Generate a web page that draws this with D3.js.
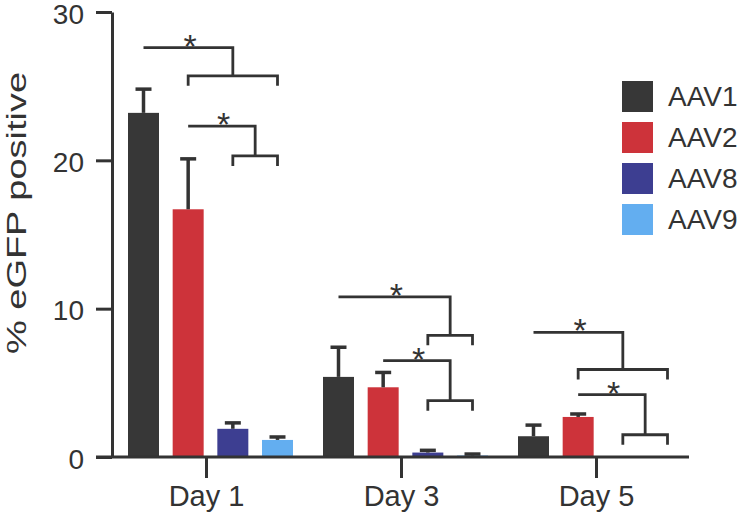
<!DOCTYPE html>
<html>
<head>
<meta charset="utf-8">
<script src="https://cdn.jsdelivr.net/npm/d3@7"></script>
<style>
    body { margin: 0; background: #fff; }
    text { font-family: "Liberation Sans", Arial, sans-serif; fill: #333; }
</style>
</head>
<body>
<div id="chart"></div>
<script>
// Categories and series
const days = ["Day 1", "Day 3", "Day 5"];
const serotypes = ["AAV1", "AAV2", "AAV8", "AAV9"];
const colors = ["#373737", "#cd333a", "#3d3e91", "#63aef0"];

// Mean % eGFP positive per day
const aav1Mean = [23.2, 5.4, 1.4];
const aav2Mean = [16.7, 4.7, 2.7];
const aav8Mean = [1.9, 0.3, 0];
const aav9Mean = [1.15, 0.1, 0];

// Upper error (added to the mean)
const aav1Err = [1.6, 2.0, 0.75];
const aav2Err = [3.4, 1.0, 0.2];
const aav8Err = [0.4, 0.15, 0];
const aav9Err = [0.2, 0.1, 0];

const yTicks = [0, 10, 20, 30];

// Significance brackets: one group vs a span of groups
const sigDay = ["Day 1", "Day 1", "Day 3", "Day 3", "Day 5", "Day 5"];
const sigFrom = ["AAV1", "AAV2", "AAV1", "AAV2", "AAV1", "AAV2"];
const sigToFirst = ["AAV2", "AAV8", "AAV8", "AAV8", "AAV2", "AAV8"];
const sigToLast = ["AAV9", "AAV9", "AAV9", "AAV9", "AAV9", "AAV9"];
const sigTop = [27.6, 22.3, 10.8, 6.5, 8.4, 4.2];
const sigBottom = [25.7, 20.3, 8.2, 3.8, 5.9, 1.5];

const means = [aav1Mean, aav2Mean, aav8Mean, aav9Mean];
const errs = [aav1Err, aav2Err, aav8Err, aav9Err];

const data = [];
days.forEach((day, i) => {
    serotypes.forEach((s, j) => {
        data.push({ day: day, sero: s, value: means[j][i], err: errs[j][i] });
    });
});

const width = 747, height = 522;
const ink = "#333";

const svg = d3.select("#chart")
    .append("svg")
    .attr("width", width)
    .attr("height", height);

const y = d3.scaleLinear()
    .domain([0, 30])
    .range([457, 12]);

const x = d3.scaleBand()
    .domain(days)
    .range([128, 683])
    .paddingInner(30 / 195)
    .paddingOuter(0);

const xs = d3.scaleBand()
    .domain(serotypes)
    .range([0, x.bandwidth()])
    .paddingInner(0.306);

const color = d3.scaleOrdinal().domain(serotypes).range(colors);

// Bars
svg.selectAll(".bar")
    .data(data)
    .enter()
    .append("rect")
    .attr("class", "bar")
    .attr("x", d => x(d.day) + xs(d.sero))
    .attr("y", d => y(d.value))
    .attr("width", xs.bandwidth())
    .attr("height", d => y(0) - y(d.value))
    .attr("fill", d => color(d.sero));

// Error bars (upper only)
const eb = svg.selectAll(".err")
    .data(data.filter(d => d.value + d.err > 0))
    .enter()
    .append("g")
    .attr("class", "err")
    .attr("stroke", ink)
    .attr("stroke-width", 3.5);

eb.append("line")
    .attr("x1", d => x(d.day) + xs(d.sero) + xs.bandwidth() / 2)
    .attr("x2", d => x(d.day) + xs(d.sero) + xs.bandwidth() / 2)
    .attr("y1", d => y(d.value))
    .attr("y2", d => y(d.value + d.err));

eb.append("line")
    .attr("x1", d => x(d.day) + xs(d.sero) + xs.bandwidth() / 2 - 8)
    .attr("x2", d => x(d.day) + xs(d.sero) + xs.bandwidth() / 2 + 8)
    .attr("y1", d => y(d.value + d.err))
    .attr("y2", d => y(d.value + d.err));

// Y axis
const yAxis = svg.append("g")
    .attr("class", "y-axis")
    .attr("transform", "translate(112,0)")
    .call(d3.axisLeft(y).tickValues(yTicks).tickSize(16).tickSizeOuter(0).tickPadding(12));

yAxis.select(".domain").attr("stroke", ink).attr("stroke-width", 3);
yAxis.selectAll(".tick line").attr("stroke", ink).attr("stroke-width", 3);
yAxis.selectAll(".tick text")
    .attr("fill", ink)
    .attr("dy", "0.4em")
    .style("font-size", "28px")
    .style("font-family", "'Liberation Sans', Arial, sans-serif");

// X axis
svg.append("line")
    .attr("x1", 96)
    .attr("x2", 689)
    .attr("y1", y(0))
    .attr("y2", y(0))
    .attr("stroke", ink)
    .attr("stroke-width", 3);

const xAxis = svg.append("g")
    .attr("class", "x-axis")
    .attr("transform", `translate(-4,${y(0)})`)
    .call(d3.axisBottom(x).tickSize(21).tickSizeOuter(0).tickPadding(7));

xAxis.select(".domain").remove();
xAxis.selectAll(".tick line").attr("stroke", ink).attr("stroke-width", 3);
xAxis.selectAll(".tick text")
    .attr("fill", ink)
    .style("font-size", "29px")
    .style("font-family", "'Liberation Sans', Arial, sans-serif");

// Y axis label
svg.append("text")
    .attr("transform", "translate(26,213) rotate(-90)")
    .attr("text-anchor", "middle")
    .attr("textLength", 282)
    .attr("lengthAdjust", "spacingAndGlyphs")
    .style("font-size", "27px")
    .text("% eGFP positive");

// Significance brackets
const cx = (day, s) => x(day) + xs(s) + xs.bandwidth() / 2;
sigDay.forEach((day, i) => {
    const x0 = cx(day, sigFrom[i]);
    const b0 = cx(day, sigToFirst[i]);
    const b1 = cx(day, sigToLast[i]);
    const bm = (b0 + b1) / 2;
    const yt = y(sigTop[i]);
    const yb = y(sigBottom[i]);
    const path = d3.path();
    path.moveTo(x0, yt);
    path.lineTo(bm, yt);
    path.lineTo(bm, yb);
    path.moveTo(b0, yb + 10);
    path.lineTo(b0, yb);
    path.lineTo(b1, yb);
    path.lineTo(b1, yb + 10);
    svg.append("path")
        .attr("d", path.toString())
        .attr("fill", "none")
        .attr("stroke", ink)
        .attr("stroke-width", 2.8);
    svg.append("text")
        .attr("x", (x0 + bm) / 2 + 2)
        .attr("y", yt + 10)
        .attr("text-anchor", "middle")
        .style("font-size", "34px")
        .text("*");
});

// Legend
const legend = svg.selectAll(".legend")
    .data(serotypes)
    .enter()
    .append("g")
    .attr("class", "legend")
    .attr("transform", (d, i) => `translate(622,${81 + i * 41})`);

legend.append("rect")
    .attr("width", 31)
    .attr("height", 31)
    .attr("fill", d => color(d));

legend.append("text")
    .attr("x", 46)
    .attr("y", 25)
    .style("font-size", "28px")
    .text(d => d);
</script>
</body>
</html>
